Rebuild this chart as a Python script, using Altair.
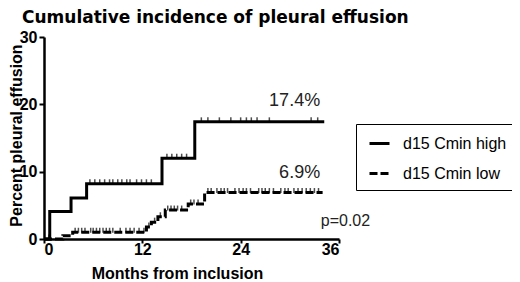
import altair as alt
import numpy as np
import pandas as pd

groups = ["d15 Cmin high", "d15 Cmin low"]

high_times = [0, 0.7, 3.3, 5.2, 14.4, 18.4, 34.2]
high_vals = [0, 4.1, 6.1, 8.2, 12.0, 17.4, 17.4]
high_censor = [5.6, 6.2, 6.8, 7.4, 8.0, 8.4, 9.0, 9.5, 10.1, 10.5, 11.3, 11.9,
               12.5, 13.1, 15.0, 15.6, 16.2, 16.8, 17.4, 19.2, 20.0, 21.4, 22.8,
               24.0, 24.7, 25.3, 26.0, 27.5, 32.6, 33.4]

low_times = [0, 2.3, 3.5, 12.5, 13.1, 13.9, 14.8, 17.6, 19.6, 34.0]
low_vals = [0, 0.5, 1.0, 1.8, 2.5, 3.3, 4.3, 5.2, 6.9, 6.9]
low_censor = [0.6, 3.8, 4.2, 4.6, 5.0, 5.7, 6.0, 6.4, 6.8, 7.2, 7.6, 8.0, 8.4,
              9.3, 10.0, 10.5, 11.0, 11.6, 12.2, 12.8, 13.5, 14.2, 15.1, 15.5,
              15.9, 16.3, 16.8, 17.9, 18.3, 18.8, 20.0, 20.4, 21.1, 21.6, 22.0,
              22.4, 23.3, 23.8, 24.3, 24.7, 25.2, 26.2, 26.6, 27.0, 27.5, 28.0,
              28.9, 29.4, 29.8, 30.5, 31.0, 31.5, 32.0, 32.5, 33.0, 33.5]

annot_text = ["17.4%", "6.9%", "p=0.02"]
annot_x = [33.7, 33.7, 39.8]
annot_y = [19.75, 9.0, 1.93]
annot_size = [18, 18, 16]

x_ticks = [0, 12, 24, 36]
y_ticks = [0, 10, 20, 30]


def level_at(times, vals, t):
    idx = np.searchsorted(np.array(times), t, side="right") - 1
    return float(np.array(vals)[idx])


curve_rows = []
for g, ts, vs in [(groups[0], high_times, high_vals), (groups[1], low_times, low_vals)]:
    for t, v in zip(ts, vs):
        curve_rows.append({"group": g, "month": t, "pct": v})
curves = pd.DataFrame(curve_rows)

cens_rows = []
for g, ts, vs, cs in [(groups[0], high_times, high_vals, high_censor),
                      (groups[1], low_times, low_vals, low_censor)]:
    for c in cs:
        cens_rows.append({"group": g, "month": c, "pct": level_at(ts, vs, c)})
cens = pd.DataFrame(cens_rows)

annots = pd.DataFrame({"text": annot_text, "month": annot_x, "pct": annot_y, "size": annot_size})

xscale = alt.Scale(domain=[0, 36], nice=False, zero=False)
yscale = alt.Scale(domain=[0, 30], nice=False)

xenc = alt.X("month:Q", scale=xscale,
             axis=alt.Axis(values=x_ticks, title="Months from inclusion",
                           titleX=133, titleY=39, titleBaseline="alphabetic",
                           labelPadding=-2, tickSize=4))
yenc = alt.Y("pct:Q", scale=yscale,
             axis=alt.Axis(values=y_ticks, title="Percent pleural effusion",
                           titleX=-23, titleY=98, titleAngle=270,
                           titleBaseline="alphabetic", titleAlign="center",
                           labelPadding=2))

lines = alt.Chart(curves).mark_line(interpolate="step-after", strokeWidth=3, color="black").encode(
    x=xenc,
    y=yenc,
    strokeDash=alt.StrokeDash(
        "group:N",
        scale=alt.Scale(domain=groups, range=[[1, 0], [8, 3]]),
        legend=alt.Legend(
            title=None, orient="none", legendX=312, legendY=87,
            padding=8, strokeColor="black", fillColor="white",
            symbolType="stroke", symbolSize=400, symbolStrokeWidth=3,
            symbolStrokeColor="black", symbolOffset=4,
            labelFont="Liberation Sans", labelFontSize=16, labelColor="black",
            labelOffset=12, rowPadding=10,
        ),
    ),
)

ticks = alt.Chart(cens).mark_tick(orient="vertical", size=5, thickness=1.5,
                                  color="black", yOffset=-2).encode(
    x=alt.X("month:Q", scale=xscale),
    y=alt.Y("pct:Q", scale=yscale),
)

texts = alt.Chart(annots).mark_text(align="right", baseline="alphabetic",
                                    font="Liberation Sans", color="#222222").encode(
    x=alt.X("month:Q", scale=xscale),
    y=alt.Y("pct:Q", scale=yscale),
    text="text:N",
    size=alt.Size("size:Q", scale=None, legend=None),
)

chart = alt.layer(lines, ticks, texts).properties(
    width=295, height=202,
    title=alt.TitleParams("Cumulative incidence of pleural effusion", anchor="start",
                          frame="group", font="DejaVu Sans", fontSize=17,
                          fontWeight="bold", color="black", dx=-22, dy=14,
                          offset=3, baseline="alphabetic"),
    autosize=alt.AutoSizeParams(type="none"),
    padding={"left": 36, "top": 29, "right": 173, "bottom": 43},
).configure_view(stroke=None).configure_axis(
    grid=False, domainColor="black", domainWidth=2.5, tickColor="black",
    tickWidth=2, tickSize=5, labelFont="Liberation Sans", labelFontWeight="bold",
    labelFontSize=16, labelColor="black", titleFont="Liberation Sans",
    titleFontWeight="bold", titleFontSize=16, titleColor="black",
)

chart.save("out.html", embed_options={"renderer": "svg", "actions": False})
